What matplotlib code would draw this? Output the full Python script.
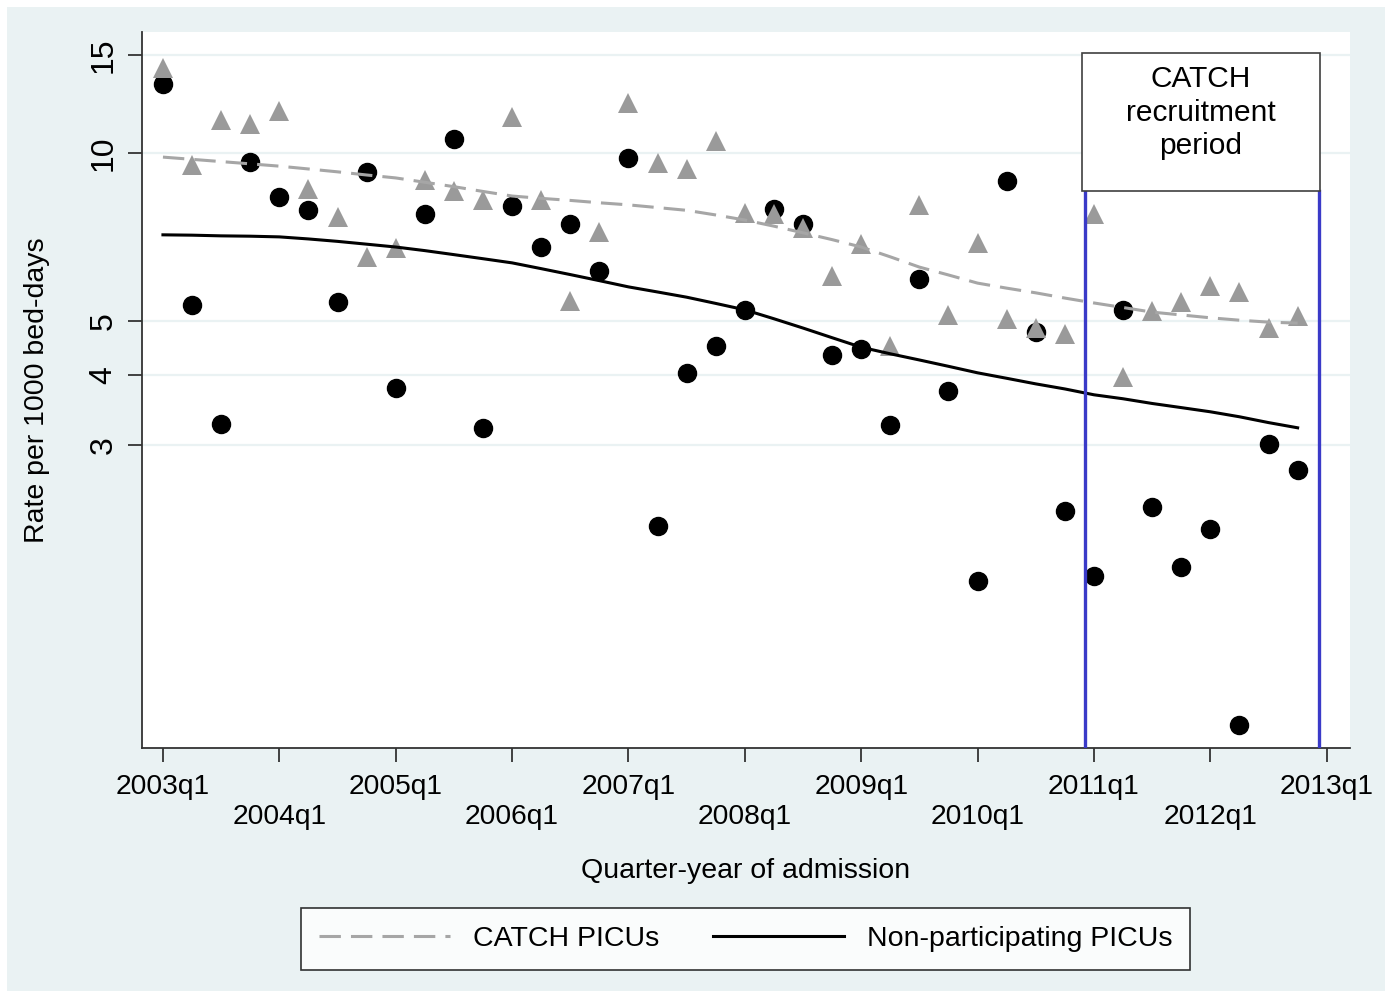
import numpy as np
import matplotlib
matplotlib.use('Agg')
import matplotlib.pyplot as plt
from matplotlib.patches import Rectangle

plt.rcParams['font.family'] = ['Liberation Sans', 'DejaVu Sans']

# --- quarters since 2003q1
quarters = np.arange(40)

# --- CATCH PICUs (grey triangles) and their fitted trend
catch_rate = [14.2, 9.52, 11.47, 11.28, 11.9, 8.63, 7.69, 6.52, 6.76, 8.95,
              8.56, 8.24, 11.6, 8.24, 5.43, 7.22, 12.3, 9.6, 9.37, 10.5,
              7.81, 7.79, 7.34, 6.02, 6.88, 4.51, 8.07, 5.13, 6.90, 5.05,
              4.86, 4.74, 7.79, 3.97, 5.21, 5.41, 5.78, 5.64, 4.86, 5.11]
catch_fit = [9.84, 9.75, 9.66, 9.57, 9.48, 9.37, 9.26, 9.14, 9.03, 8.87,
             8.71, 8.54, 8.38, 8.30, 8.23, 8.15, 8.08, 7.99, 7.90, 7.75,
             7.59, 7.40, 7.20, 7.00, 6.79, 6.52, 6.25, 6.05, 5.85, 5.73,
             5.62, 5.50, 5.39, 5.29, 5.19, 5.13, 5.07, 5.02, 4.98, 4.96]

# --- non-participating PICUs (black circles) and their fitted trend
other_rate = [13.3, 5.35, 3.27, 9.65, 8.35, 7.91, 5.41, 9.25, 3.79, 7.79,
              10.6, 3.22, 8.04, 6.79, 7.47, 6.15, 9.80, 2.15, 4.04, 4.51,
              5.24, 7.94, 7.47, 4.35, 4.46, 3.26, 5.95, 3.75, 1.71, 8.92,
              4.78, 2.28, 1.75, 5.24, 2.32, 1.81, 2.12, 0.945, 3.01, 2.71]
other_fit = [7.14, 7.13, 7.11, 7.10, 7.08, 7.02, 6.95, 6.87, 6.79, 6.69,
             6.58, 6.47, 6.36, 6.21, 6.06, 5.91, 5.76, 5.64, 5.52, 5.38,
             5.24, 5.05, 4.86, 4.67, 4.49, 4.37, 4.26, 4.15, 4.04, 3.95,
             3.86, 3.78, 3.69, 3.63, 3.56, 3.50, 3.44, 3.37, 3.29, 3.22]

# --- recruitment period (in quarters)
recruit_start = 31.7
recruit_end = 39.75

xtick_pos = np.arange(0, 41, 4)
xtick_lab = [f'{2003 + i}q1' for i in range(len(xtick_pos))]
ytick_pos = [3, 4, 5, 10, 15]

bg = '#EAF2F3'

fig = plt.figure(figsize=(13.85, 9.91), dpi=100)
fig.patch.set_facecolor(bg)

# white margin at top and left as in the original export
fig.add_artist(Rectangle((0, 1 - 7/991), 1, 7/991, transform=fig.transFigure,
                         facecolor='white', edgecolor='none', zorder=-10))
fig.add_artist(Rectangle((0, 0), 7/1385, 1, transform=fig.transFigure,
                         facecolor='white', edgecolor='none', zorder=-10))

ax = fig.add_axes([142/1385, 1 - 748/991, 1208/1385, 716/991])
ax.set_facecolor('white')

ax.set_yscale('log')
ax.set_xlim(-0.72, 40.8)
ax.set_ylim(0.859, 16.49)

for v in ytick_pos:
    ax.axhline(v, color=bg, lw=1.6, zorder=0)

ax.plot(quarters, other_rate, 'o', color='black', ms=13, mec='black', zorder=3)
ax.plot(quarters, catch_rate, '^', color='#9a9a9a', ms=14.5, mec='#9a9a9a', mew=0, zorder=4)
ax.plot(quarters, catch_fit, color='#a6a6a6', lw=2.2, dashes=(7, 3.3), zorder=5,
        label='CATCH PICUs')
ax.plot(quarters, other_fit, color='black', lw=2.2, zorder=5,
        label='Non-participating PICUs')

box_bottom = (748 - 191) / 716
for xv in [recruit_start, recruit_end]:
    ax.axvline(xv, ymin=0, ymax=box_bottom, color='#3a3ac8', lw=2.4, zorder=6)

ax.add_patch(Rectangle((0.778, box_bottom), 0.975 - 0.778, 0.9707 - box_bottom,
                       transform=ax.transAxes, facecolor='white',
                       edgecolor='#404040', lw=1.2, zorder=7))
ax.text(0.8765, 0.887, 'CATCH\nrecruitment\nperiod', transform=ax.transAxes,
        ha='center', va='center', fontsize=21.5, linespacing=1.25, zorder=8)

ax.set_yticks(ytick_pos)
ax.set_yticklabels([str(v) for v in ytick_pos], rotation=90, va='center')
ax.yaxis.set_minor_locator(matplotlib.ticker.NullLocator())
ax.set_xticks(xtick_pos)
ax.set_xticklabels([lab if i % 2 == 0 else '\n' + lab for i, lab in enumerate(xtick_lab)],
                   linespacing=1.17)
ax.tick_params(axis='both', length=10, width=1.3, color='#333333')
ax.tick_params(axis='x', pad=9, labelsize=20.3)
ax.tick_params(axis='y', pad=7, labelsize=23)

for s in ['top', 'right']:
    ax.spines[s].set_visible(False)
for s in ['left', 'bottom']:
    ax.spines[s].set_color('#333333')
    ax.spines[s].set_linewidth(1.3)

ax.set_ylabel('Rate per 1000 bed-days', fontsize=20.5)
ax.yaxis.set_label_coords(-0.0762, 0.5)
ax.set_xlabel('Quarter-year of admission', fontsize=20.5)
ax.xaxis.set_label_coords(0.5, -0.154)
ax.xaxis.label.set_va('top')

leg = fig.legend(loc='center', bbox_to_anchor=(745.5/1385, 1 - 939/991), ncol=2,
                 fontsize=20.5, frameon=True, fancybox=False, edgecolor='black',
                 handlelength=4.6, handletextpad=0.8, columnspacing=1.9,
                 borderpad=0.62, borderaxespad=0)
leg.get_frame().set_linewidth(1.2)
leg.get_frame().set_facecolor('white')

fig.savefig('out.png', dpi=100, facecolor=fig.get_facecolor())
